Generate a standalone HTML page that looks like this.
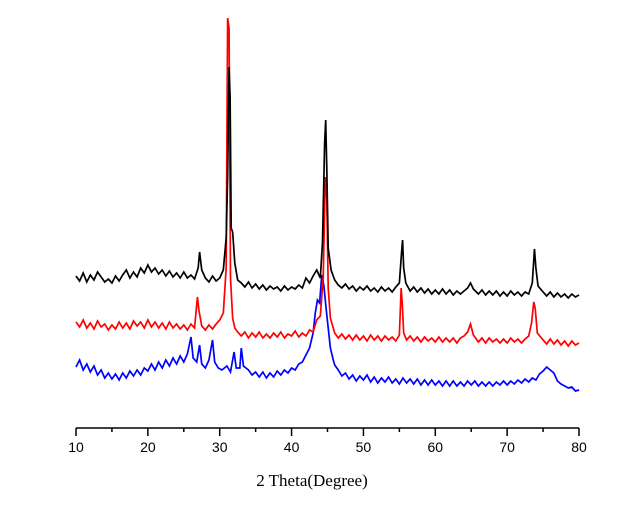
<!DOCTYPE html>
<html><head><meta charset="utf-8">
<style>
html,body{margin:0;padding:0;background:#fff;}
svg{display:block;}
</style></head>
<body>
<svg id="chart" width="633" height="510" viewBox="0 0 633 510" xmlns="http://www.w3.org/2000/svg">
<g id="series"></g>
<g id="axis"></g>
<text x="312" y="486" text-anchor="middle" font-family="'Liberation Serif', serif" font-size="17" fill="#000">2 Theta(Degree)</text>
</svg>
<script>
const xTicks = [10, 20, 30, 40, 50, 60, 70, 80];
const xMinorTicks = [15, 25, 35, 45, 55, 65, 75];
const blackSeries = [[10,152],[10.5,147],[11,155],[11.5,146],[12,153],[12.5,148],[13,156],[13.5,151],[14,146],[14.5,149],[15,145],[15.5,152],[16,147],[16.5,153],[17,158],[17.5,150],[18,156],[18.5,151],[19,160],[19.5,155],[20,163],[20.5,156],[21,160],[21.5,154],[22,158],[22.5,152],[23,157],[23.5,151],[24,155],[24.5,150],[25,156],[25.5,150],[26,153],[26.5,149],[27,160],[27.2,176],[27.5,158],[28,150],[28.5,146],[29,152],[29.5,147],[30,150],[30.5,158],[30.9,190],[31.1,250],[31.3,361],[31.45,330],[31.6,200],[31.8,196],[32.1,165],[32.5,148],[33,145],[33.5,141],[34,146],[34.5,140],[35,144],[35.5,139],[36,143],[36.5,138],[37,142],[37.5,139],[38,141],[38.5,137],[39,142],[39.5,138],[40,141],[40.5,139],[41,143],[41.5,140],[42,150],[42.5,145],[43,152],[43.5,158],[44,150],[44.3,185],[44.6,285],[44.75,308],[44.9,260],[45.1,180],[45.5,158],[46,148],[46.5,143],[47,140],[47.5,144],[48,139],[48.5,142],[49,137],[49.5,141],[50,138],[50.5,142],[51,137],[51.5,140],[52,136],[52.5,141],[53,137],[53.5,140],[54,136],[54.5,141],[55,145],[55.3,175],[55.45,188],[55.6,160],[55.9,145],[56.5,137],[57,141],[57.5,136],[58,140],[58.5,135],[59,139],[59.5,134],[60,138],[60.5,134],[61,139],[61.5,134],[62,138],[62.5,133],[63,137],[63.5,134],[64,137],[64.5,140],[64.9,145],[65.3,139],[66,134],[66.5,138],[67,133],[67.5,137],[68,133],[68.5,137],[69,132],[69.5,136],[70,132],[70.5,137],[71,133],[71.5,136],[72,132],[72.5,136],[73,134],[73.5,145],[73.8,179],[74.0,160],[74.3,142],[75,136],[75.5,132],[76,136],[76.5,131],[77,135],[77.5,131],[78,134],[78.5,130],[79,134],[79.5,131],[80,133]];
const redSeries = [[10,106],[10.5,101],[11,108],[11.5,100],[12,105],[12.5,99],[13,107],[13.5,101],[14,104],[14.5,98],[15,103],[15.5,99],[16,106],[16.5,100],[17,105],[17.5,99],[18,107],[18.5,102],[19,106],[19.5,100],[20,108],[20.5,101],[21,106],[21.5,100],[22,105],[22.5,99],[23,106],[23.5,100],[24,104],[24.5,99],[25,103],[25.5,98],[26,104],[26.5,100],[26.9,131],[27.1,118],[27.5,102],[28,98],[28.5,103],[29,99],[29.5,104],[30,108],[30.5,115],[30.9,160],[31.1,410],[31.3,400],[31.5,150],[31.8,110],[32.1,100],[32.5,96],[33,92],[33.5,96],[34,90],[34.5,95],[35,91],[35.5,96],[36,90],[36.5,94],[37,90],[37.5,95],[38,91],[38.5,96],[39,90],[39.5,94],[40,92],[40.5,97],[41,91],[41.5,95],[42,92],[42.5,98],[43,96],[43.5,108],[44,112],[44.4,150],[44.7,251],[44.9,230],[45.1,140],[45.4,110],[46,95],[46.5,90],[47,94],[47.5,89],[48,93],[48.5,88],[49,93],[49.5,88],[50,92],[50.5,87],[51,93],[51.5,88],[52,92],[52.5,87],[53,92],[53.5,88],[54,91],[54.5,87],[55,93],[55.25,140],[55.4,125],[55.6,95],[56,88],[56.5,92],[57,87],[57.5,91],[58,86],[58.5,91],[59,87],[59.5,90],[60,86],[60.5,91],[61,86],[61.5,90],[62,86],[62.5,90],[63,85],[63.5,90],[64,92],[64.5,96],[64.9,104],[65.3,93],[66,86],[66.5,90],[67,85],[67.5,90],[68,86],[68.5,89],[69,85],[69.5,89],[70,85],[70.5,90],[71,86],[71.5,89],[72,85],[72.5,89],[73,92],[73.4,105],[73.7,126],[73.9,120],[74.2,95],[75,88],[75.5,84],[76,89],[76.5,84],[77,88],[77.5,83],[78,87],[78.5,82],[79,87],[79.5,83],[80,85]];
const blueSeries = [[10,61],[10.5,68],[11,58],[11.5,64],[12,56],[12.5,62],[13,53],[13.5,58],[14,50],[14.5,55],[15,49],[15.5,54],[16,48],[16.5,55],[17,50],[17.5,57],[18,52],[18.5,58],[19,53],[19.5,60],[20,57],[20.5,64],[21,58],[21.5,66],[22,60],[22.5,68],[23,62],[23.5,70],[24,64],[24.5,72],[25,66],[25.5,74],[26,91],[26.3,70],[26.8,66],[27.2,83],[27.5,64],[28,60],[28.5,68],[29,88],[29.3,66],[29.8,60],[30.3,58],[31,62],[31.5,56],[32,76],[32.3,60],[32.8,60],[33,80],[33.3,62],[34,58],[34.5,53],[35,56],[35.5,51],[36,56],[36.5,50],[37,55],[37.5,51],[38,57],[38.5,53],[39,58],[39.5,55],[40,60],[40.5,58],[41,64],[41.5,66],[42,73],[42.5,80],[43,95],[43.3,115],[43.6,128],[43.9,125],[44.2,153],[44.5,142],[44.8,120],[45.1,100],[45.4,80],[45.8,68],[46,63],[46.5,58],[47,52],[47.5,55],[48,49],[48.5,53],[49,47],[49.5,52],[50,48],[50.5,53],[51,46],[51.5,51],[52,45],[52.5,50],[53,46],[53.5,51],[54,45],[54.5,49],[55,44],[55.5,50],[56,45],[56.5,49],[57,44],[57.5,49],[58,43],[58.5,48],[59,43],[59.5,48],[60,43],[60.5,47],[61,42],[61.5,47],[62,42],[62.5,47],[63,42],[63.5,46],[64,42],[64.5,47],[65,43],[65.5,47],[66,42],[66.5,46],[67,42],[67.5,46],[68,42],[68.5,46],[69,43],[69.5,47],[70,43],[70.5,47],[71,44],[71.5,48],[72,45],[72.5,49],[73,46],[73.5,50],[74,48],[74.5,54],[75,57],[75.5,61],[76,58],[76.5,55],[77,47],[77.5,44],[78,42],[78.5,40],[79,41],[79.5,37],[80,38]];

const gSeries = document.getElementById('series');
const gAxis = document.getElementById('axis');
const NS = 'http://www.w3.org/2000/svg';
const X0 = 76, X1 = 579, AXIS_Y = 428;
function xScale(v){ return X0 + (v - 10) / (80 - 10) * (X1 - X0); }
function yScale(v){ return AXIS_Y - v; }

function drawSeries(data, color, name){
  const p = document.createElementNS(NS, 'path');
  let d = '';
  data.forEach((pt, i) => { d += (i ? 'L' : 'M') + xScale(pt[0]).toFixed(2) + ' ' + yScale(pt[1]).toFixed(2); });
  p.setAttribute('d', d);
  p.setAttribute('fill', 'none');
  p.setAttribute('stroke', color);
  p.setAttribute('stroke-width', '1.7');
  
  
  gSeries.appendChild(p);
}
drawSeries(blueSeries, '#0000ff', 'blue-pattern-line');
drawSeries(redSeries, '#ff0000', 'red-pattern-line');
drawSeries(blackSeries, '#000000', 'black-pattern-line');

const axisLine = document.createElementNS(NS, 'line');
axisLine.setAttribute('x1', X0); axisLine.setAttribute('x2', X1);
axisLine.setAttribute('y1', AXIS_Y); axisLine.setAttribute('y2', AXIS_Y);
axisLine.setAttribute('stroke', '#000'); axisLine.setAttribute('stroke-width', '1.5');


gAxis.appendChild(axisLine);

xTicks.forEach(t => {
  const l = document.createElementNS(NS, 'line');
  l.setAttribute('x1', xScale(t)); l.setAttribute('x2', xScale(t));
  l.setAttribute('y1', AXIS_Y); l.setAttribute('y2', AXIS_Y + 8);
  l.setAttribute('stroke', '#000'); l.setAttribute('stroke-width', '1.5');
  
  
  gAxis.appendChild(l);
  const tx = document.createElementNS(NS, 'text');
  tx.setAttribute('x', xScale(t)); tx.setAttribute('y', 452);
  tx.setAttribute('text-anchor', 'middle');
  tx.setAttribute('font-family', "'Liberation Sans', sans-serif");
  tx.setAttribute('font-size', '14');
  tx.textContent = t;
  
  
  gAxis.appendChild(tx);
});
xMinorTicks.forEach(t => {
  const l = document.createElementNS(NS, 'line');
  l.setAttribute('x1', xScale(t)); l.setAttribute('x2', xScale(t));
  l.setAttribute('y1', AXIS_Y); l.setAttribute('y2', AXIS_Y + 4);
  l.setAttribute('stroke', '#000'); l.setAttribute('stroke-width', '1.5');
  
  
  gAxis.appendChild(l);
});
</script>
</body></html>
